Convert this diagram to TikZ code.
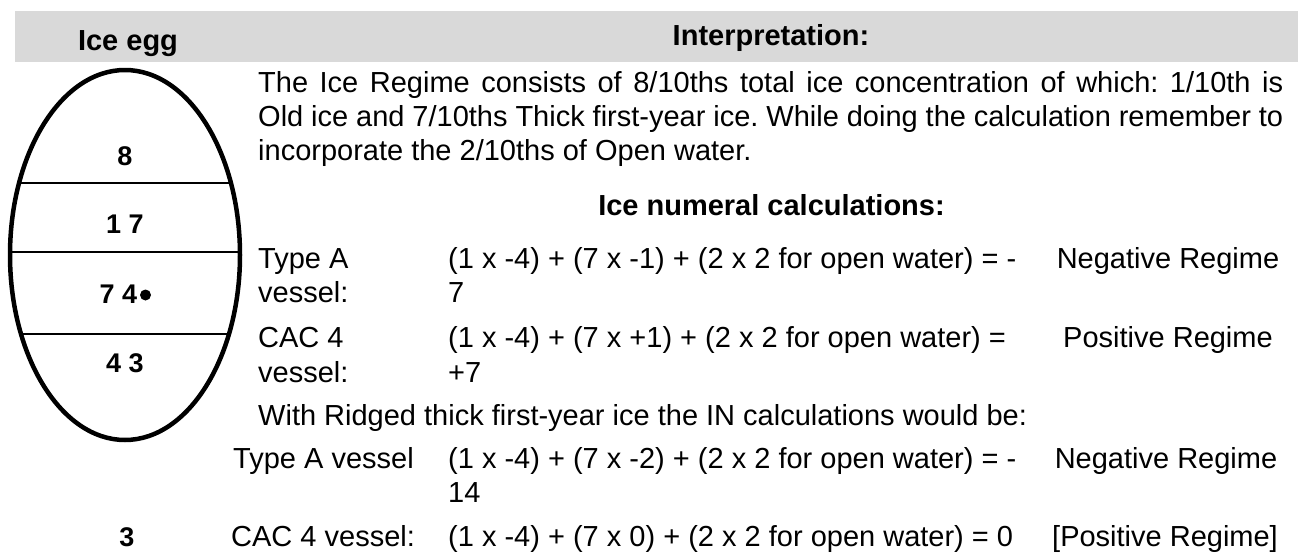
\documentclass[tikz,border=0pt]{standalone}
\usepackage{fontspec}
\setmainfont{Liberation Sans}
\definecolor{hdrgray}{HTML}{D9D9D9}
\frenchspacing
\begin{document}
\begin{tikzpicture}[x=1pt,y=-1pt,
  txt/.style={anchor=base west, inner sep=0pt, font=\fontsize{29}{34}\selectfont},
  ctr/.style={anchor=base, inner sep=0pt, font=\fontsize{29}{34}\selectfont},
  hdr/.style={anchor=base, inner sep=0pt, font=\fontsize{29}{34}\selectfont\bfseries},
  num/.style={anchor=base, inner sep=0pt, font=\fontsize{27}{30}\selectfont\bfseries},
  eggline/.style={line width=1.3pt},
  eggoutline/.style={line width=4.5pt}]
\useasboundingbox (0,0) rectangle (1298,552);
% header band
\fill[hdrgray] (15,11) rectangle (1298,62);
\node[hdr] (hegg) at (128,50) {Ice egg};
\node[hdr] (hint) at (771,45) {Interpretation:};
% egg
\begin{scope}
  \clip (125,255) ellipse [x radius=115, y radius=185];
  \draw[eggline] (0,183) -- (250,183);
  \draw[eggline] (0,252) -- (250,252);
  \draw[eggline] (0,334) -- (250,334);
\end{scope}
\draw[eggoutline] (125,255) ellipse [x radius=115, y radius=185];
\node[num] (e1) at (125,165) {8};
\node[num] (e2) at (125,233) {1 7};
\node[num] (e3) at (118.5,303) {7 4};
\node[circle, fill, inner sep=0pt, minimum size=11pt] (edot) at (145.5,295) {};
\node[num] (e4) at (125,372) {4 3};
\node[num] (e5) at (127,546) {3};
% paragraph
\node[txt] (p1) at (258,92) {\makebox[1025pt][s]{The Ice Regime consists of 8/10ths total ice concentration of which: 1/10th is}};
\node[txt] (p2) at (258,126) {\makebox[1025pt][s]{Old ice and 7/10ths Thick first-year ice. While doing the calculation remember to}};
\node[txt] (p3) at (258,160) {incorporate the 2/10ths of Open water.};
\node[hdr] (calc) at (771.5,215) {Ice numeral calculations:};
% rows 1-2
\node[txt] (r1a) at (258,268) {Type A};
\node[txt] (r1b) at (258,302) {vessel:};
\node[txt] (r1c) at (448,268) {(1 x -4) + (7 x -1) + (2 x 2 for open water) = -};
\node[txt] (r1d) at (448,302) {7};
\node[ctr] (r1e) at (1168,268) {Negative Regime};
\node[txt] (r2a) at (258,347) {CAC 4};
\node[txt] (r2b) at (258,382) {vessel:};
\node[txt] (r2c) at (448,347) {(1 x -4) + (7 x +1) + (2 x 2 for open water) =};
\node[txt] (r2d) at (448,382) {+7};
\node[ctr] (r2e) at (1168,347) {Positive Regime};
% ridged
\node[txt] (rid) at (258,425) {With Ridged thick first-year ice the IN calculations would be:};
\node[txt] (r3a) at (233,468) {Type A vessel};
\node[txt] (r3c) at (448,468) {(1 x -4) + (7 x -2) + (2 x 2 for open water) = -};
\node[txt] (r3d) at (448,502) {14};
\node[ctr] (r3e) at (1166,468) {Negative Regime};
\node[txt] (r4a) at (231,546) {CAC 4 vessel:};
\node[txt] (r4c) at (448,546) {(1 x -4) + (7 x 0) + (2 x 2 for open water) = 0};
\node[ctr] (r4e) at (1165,546) {[Positive Regime]};
\end{tikzpicture}
\end{document}
